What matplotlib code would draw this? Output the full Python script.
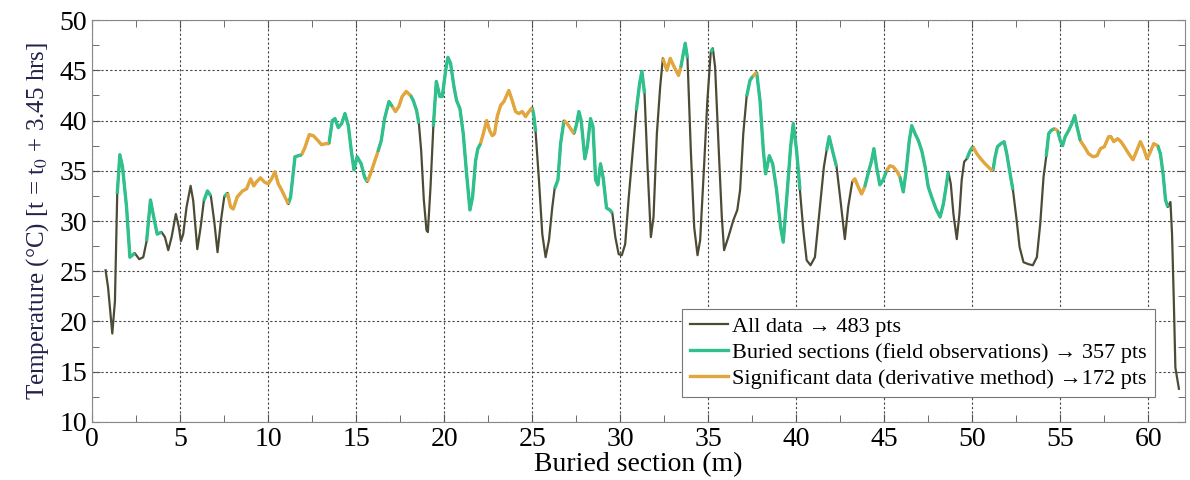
import numpy as np
import matplotlib
matplotlib.use('Agg')
from matplotlib import pyplot as plt
from matplotlib.lines import Line2D
from matplotlib.ticker import MultipleLocator

plt.rcParams['font.family'] = ['Liberation Serif', 'DejaVu Serif']
plt.rcParams['mathtext.fontset'] = 'stix'

# buried section (m) and temperature (degC)
section = [
    0.76, 0.9, 1.14, 1.29, 1.42, 1.57, 1.72, 1.95, 2.14, 2.42, 2.67, 2.9, 3.09, 3.31, 3.46,
    3.69, 3.94, 4.13, 4.32, 4.51, 4.75, 4.92, 5.04, 5.17, 5.36, 5.59, 5.74, 5.97, 6.16, 6.34,
    6.55, 6.74, 6.93, 7.12, 7.31, 7.5, 7.69, 7.86, 8.01, 8.24, 8.54, 8.77, 9.0, 9.18, 9.33,
    9.56, 9.77, 10.0, 10.19, 10.38, 10.57, 10.76, 10.95, 11.14, 11.27, 11.52, 11.7, 11.9, 12.08, 12.33,
    12.56, 12.78, 13.03, 13.26, 13.45, 13.64, 13.79, 13.98, 14.17, 14.36, 14.55, 14.72, 14.87, 15.05, 15.28,
    15.47, 15.63, 15.81, 16.0, 16.23, 16.42, 16.61, 16.86, 17.05, 17.23, 17.42, 17.61, 17.84, 18.09, 18.24,
    18.43, 18.56, 18.69, 18.84, 18.99, 19.07, 19.22, 19.38, 19.55, 19.75, 19.89, 20.08, 20.21, 20.36, 20.55,
    20.7, 20.89, 21.08, 21.27, 21.46, 21.61, 21.78, 21.91, 22.06, 22.22, 22.41, 22.58, 22.73, 22.86, 23.01,
    23.2, 23.39, 23.67, 23.86, 24.05, 24.24, 24.43, 24.62, 24.81, 25.0, 25.09, 25.19, 25.38, 25.57, 25.76,
    25.95, 26.14, 26.27, 26.46, 26.61, 26.8, 26.99, 27.18, 27.37, 27.5, 27.65, 27.78, 27.99, 28.13, 28.31,
    28.45, 28.6, 28.73, 28.88, 29.03, 29.22, 29.41, 29.55, 29.72, 29.91, 30.09, 30.28, 30.47, 30.76, 30.91,
    31.1, 31.23, 31.38, 31.55, 31.74, 31.89, 32.08, 32.27, 32.42, 32.65, 32.84, 33.02, 33.31, 33.44, 33.69,
    33.82, 34.01, 34.2, 34.39, 34.54, 34.76, 34.95, 35.14, 35.26, 35.39, 35.58, 35.77, 35.9, 36.14, 36.43,
    36.65, 36.81, 36.99, 37.18, 37.37, 37.52, 37.75, 37.94, 38.13, 38.26, 38.47, 38.66, 38.88, 39.11, 39.26,
    39.45, 39.68, 39.83, 40.02, 40.21, 40.4, 40.59, 40.81, 41.06, 41.34, 41.57, 41.72, 41.87, 42.06, 42.29,
    42.51, 42.76, 42.95, 43.18, 43.33, 43.52, 43.71, 43.89, 44.12, 44.28, 44.41, 44.56, 44.75, 44.94, 45.13,
    45.32, 45.51, 45.74, 45.89, 46.08, 46.27, 46.42, 46.56, 46.75, 46.94, 47.13, 47.32, 47.5, 47.69, 47.94,
    48.17, 48.36, 48.51, 48.64, 48.78, 48.93, 49.12, 49.27, 49.4, 49.54, 49.69, 49.88, 50.03, 50.26, 50.48,
    50.73, 51.02, 51.17, 51.3, 51.43, 51.62, 51.81, 51.96, 52.15, 52.31, 52.5, 52.69, 52.91, 53.2, 53.44,
    53.67, 53.86, 54.05, 54.2, 54.34, 54.47, 54.66, 54.85, 55.0, 55.13, 55.28, 55.47, 55.66, 55.82, 55.95,
    56.14, 56.37, 56.61, 56.86, 57.09, 57.28, 57.5, 57.75, 57.88, 58.04, 58.26, 58.45, 58.64, 58.89, 59.13,
    59.32, 59.55, 59.74, 59.93, 60.12, 60.31, 60.54, 60.69, 60.84, 60.98, 61.11, 61.26, 61.35, 61.45, 61.54,
    61.74,
]
temperature = [
    25.1, 23.4, 18.8, 22.0, 32.7, 36.6, 35.4, 31.4, 26.4, 26.8, 26.2, 26.4, 28.0, 32.1, 30.7,
    28.7, 28.9, 28.4, 27.1, 28.4, 30.7, 29.4, 28.0, 28.7, 31.4, 33.5, 32.0, 27.2, 29.4, 32.0,
    33.0, 32.5, 30.0, 26.9, 30.0, 32.4, 32.8, 31.4, 31.2, 32.4, 33.0, 33.2, 34.2, 33.5, 33.9,
    34.3, 33.9, 33.7, 34.2, 34.9, 33.7, 33.1, 32.4, 31.7, 32.4, 36.4, 36.5, 36.6, 37.3, 38.6,
    38.5, 38.1, 37.6, 37.7, 37.7, 40.0, 40.2, 39.3, 39.7, 40.7, 39.5, 37.0, 35.1, 36.4, 35.7,
    34.4, 33.9, 34.7, 35.7, 36.9, 38.0, 40.2, 41.9, 41.4, 40.9, 41.4, 42.4, 42.9, 42.5, 42.0,
    41.0, 39.7, 37.0, 32.1, 29.1, 28.9, 33.4, 39.4, 43.9, 42.4, 42.4, 45.0, 46.3, 45.7, 43.4,
    42.0, 41.2, 38.7, 34.7, 31.1, 32.4, 36.0, 37.2, 37.7, 38.7, 40.0, 39.0, 38.5, 38.7, 40.4,
    41.5, 41.9, 43.0, 42.0, 40.9, 40.7, 40.9, 40.4, 40.9, 41.3, 40.5, 38.9, 34.1, 28.7, 26.4,
    28.1, 31.4, 33.2, 34.1, 37.7, 40.0, 39.7, 39.2, 38.7, 39.5, 40.9, 40.0, 36.2, 37.4, 40.2,
    39.4, 34.1, 33.6, 35.7, 34.3, 31.3, 31.1, 30.8, 28.4, 26.7, 26.6, 27.7, 32.1, 38.0, 41.0,
    43.7, 44.9, 42.7, 35.4, 28.4, 30.4, 38.7, 43.4, 46.2, 45.0, 46.2, 45.5, 44.5, 45.3, 47.7,
    46.2, 37.0, 29.4, 26.6, 28.1, 35.4, 42.0, 46.8, 47.2, 45.3, 37.7, 30.4, 27.1, 28.4, 30.1,
    31.1, 33.1, 38.7, 42.4, 44.0, 44.4, 44.8, 42.0, 37.0, 34.7, 36.5, 35.7, 33.1, 29.4, 27.9,
    32.1, 37.4, 39.7, 37.0, 33.1, 29.1, 26.1, 25.6, 26.4, 31.4, 35.4, 37.0, 38.4, 37.0, 35.4,
    32.1, 28.2, 31.4, 33.9, 34.2, 33.4, 32.7, 33.4, 35.0, 36.0, 37.2, 35.4, 33.6, 34.1, 35.0,
    35.5, 35.4, 34.9, 34.4, 32.9, 35.4, 38.0, 39.5, 38.7, 38.0, 37.0, 35.4, 33.4, 32.4, 31.2,
    30.4, 31.7, 33.4, 34.9, 33.7, 30.7, 28.2, 30.7, 34.1, 35.9, 36.2, 37.0, 37.4, 36.7, 36.2,
    35.7, 35.2, 35.0, 36.4, 37.4, 37.7, 37.9, 36.7, 34.7, 33.1, 30.4, 27.4, 25.9, 25.7, 25.6,
    26.4, 29.7, 34.4, 36.4, 38.7, 39.0, 39.2, 39.0, 38.0, 37.5, 38.4, 39.0, 39.7, 40.5, 39.4,
    38.0, 37.4, 36.7, 36.4, 36.5, 37.2, 37.4, 38.4, 38.4, 37.9, 38.2, 37.9, 37.4, 36.7, 36.1,
    36.9, 37.9, 37.2, 36.2, 36.9, 37.7, 37.5, 36.7, 34.7, 32.1, 31.4, 31.9, 28.7, 22.1, 15.4,
    13.3,
]

# stretches (start, end in m) flagged as buried / significant
buried = [(1.42, 2.42), (3.09, 3.94), (6.34, 6.74), (7.5, 7.69), (11.14, 11.9), (13.45, 15.63),
          (16.23, 17.05), (18.09, 18.56), (19.38, 22.06), (25.0, 25.19), (26.27, 26.8), (27.37, 29.55),
          (30.91, 31.38), (33.44, 33.82), (35.14, 35.26), (37.18, 37.52), (37.75, 40.21), (41.72, 42.29),
          (43.89, 45.13), (45.89, 48.64), (49.69, 50.03), (51.17, 52.31), (54.2, 54.66), (54.85, 56.14),
          (60.54, 61.11)]
significant = [(7.69, 11.14), (11.9, 13.45), (15.63, 16.23), (17.05, 18.09), (22.06, 25.0),
               (26.8, 27.37), (32.42, 33.44), (37.52, 37.75), (43.18, 43.89), (45.13, 45.89),
               (50.03, 51.17), (54.66, 54.85), (56.14, 60.54)]

labels = ['All data \u2192 483 pts',
          'Buried sections (field observations) \u2192 357 pts',
          'Significant data (derivative method) \u2192172 pts']

c_all = '#4d4b36'
c_bur = '#30c08c'
c_sig = '#e2a63d'

x = np.array(section)
y = np.array(temperature)

fig = plt.figure(figsize=(11.9, 4.8), dpi=100)
ax = fig.add_axes([0.0775, 0.121, 0.9185, 0.837])

ax.plot(x, y, color=c_all, lw=1.6, zorder=3)
for a, b in buried:
    m = (x >= a - 1e-6) & (x <= b + 1e-6)
    ax.plot(x[m], y[m], color=c_bur, lw=2.4, zorder=4, solid_capstyle='butt')
for a, b in significant:
    m = (x >= a - 1e-6) & (x <= b + 1e-6)
    ax.plot(x[m], y[m], color=c_sig, lw=2.4, zorder=5, solid_capstyle='butt')

ax.set_xlim(0, 62.1)
ax.set_ylim(10, 50)
ax.xaxis.set_major_locator(MultipleLocator(5))
ax.xaxis.set_minor_locator(MultipleLocator(2.5))
ax.yaxis.set_major_locator(MultipleLocator(5))
ax.yaxis.set_minor_locator(MultipleLocator(2.5))
ax.tick_params(which='both', direction='in', top=True, right=True, colors='#555555',
               labelcolor='black', labelsize=20)
ax.tick_params(which='major', length=6)
ax.tick_params(which='minor', length=5)
ax.grid(True, which='major', linestyle=(0, (2, 2)), color='#444444', lw=0.8)
for s in ax.spines.values():
    s.set_color('#888888')

ax.set_xlabel('Buried section (m)', fontsize=20, labelpad=0)
ax.set_ylabel('Temperature (\u00b0C) [t = t$_0$ + 3.45 hrs]', fontsize=18,
              color='#22224a', labelpad=6)

handles = [Line2D([], [], color=c_all, lw=1.6),
           Line2D([], [], color=c_bur, lw=2.4),
           Line2D([], [], color=c_sig, lw=2.4)]
leg = ax.legend(handles, labels, loc='lower left', bbox_to_anchor=(0.54, 0.062),
                fontsize=16, fancybox=False, framealpha=1, edgecolor='#777777',
                handlelength=1.7, handletextpad=0.2, borderpad=0.35, labelspacing=0.25,
                borderaxespad=0)
leg.get_frame().set_linewidth(0.8)

plt.savefig('out.png', dpi=100)
